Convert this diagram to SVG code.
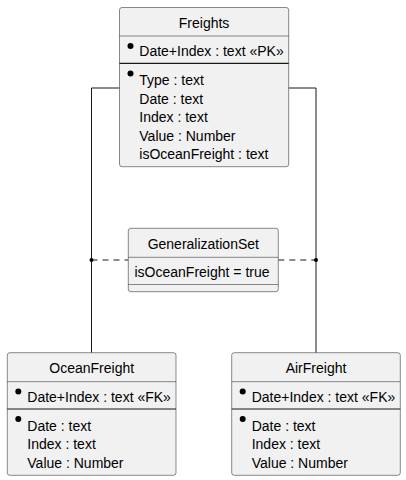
<svg xmlns="http://www.w3.org/2000/svg" width="406" height="480" viewBox="0 0 406 480">
<style>
.box{fill:#F1F1F1;stroke:#181818;stroke-width:0.5}
.sep{stroke:#181818;stroke-width:0.5;fill:none}
.pk{stroke:#181818;stroke-width:1.2;fill:none}
.t{font-family:"Liberation Sans",Arial,sans-serif;font-size:14px;fill:#000}
.c{text-anchor:middle}
.dot{fill:#000}
.ln{stroke:#181818;stroke-width:1;fill:none}
.dash{stroke:#181818;stroke-width:1;fill:none;stroke-dasharray:6,5}
</style>
<rect width="406" height="480" fill="#FFFFFF"/>
<g id="connectors">
<polyline class="ln" points="119.5,88 91.5,88 91.5,352.7"/>
<polyline class="ln" points="288.7,88 316,88 316,352.7"/>
<line class="dash" x1="91.5" y1="260" x2="128.3" y2="260"/>
<line class="dash" x1="278.3" y1="260" x2="316" y2="260"/>
<circle class="dot" cx="91.5" cy="260" r="2"/>
<circle class="dot" cx="316" cy="260" r="2"/>
</g>
<g id="Freights">
<rect class="box" x="119.5" y="7.5" width="169.2" height="159.2" rx="2.5"/>
<line class="sep" x1="119.5" y1="36" x2="288.7" y2="36"/>
<line class="pk" x1="119.5" y1="63.3" x2="288.7" y2="63.3"/>
<text class="t c" x="204.1" y="27.5">Freights</text>
<circle class="dot" cx="130.5" cy="46" r="3"/>
<text class="t" x="139.3" y="56">Date+Index : text «PK»</text>
<circle class="dot" cx="130.5" cy="73.5" r="3"/>
<text class="t" x="139.3" y="85">Type : text</text>
<text class="t" x="139.3" y="103.6">Date : text</text>
<text class="t" x="139.3" y="122.2">Index : text</text>
<text class="t" x="139.3" y="140.8">Value : Number</text>
<text class="t" x="139.3" y="159.4">isOceanFreight : text</text>
</g>
<g id="GeneralizationSet">
<rect class="box" x="128.3" y="228.3" width="150" height="63.4" rx="2.5"/>
<line class="sep" x1="128.3" y1="257.3" x2="278.3" y2="257.3"/>
<line class="sep" x1="128.3" y1="284.5" x2="278.3" y2="284.5"/>
<text class="t c" x="203.3" y="248.5">GeneralizationSet</text>
<text class="t" x="134.5" y="276.7">isOceanFreight = true</text>
</g>
<g id="OceanFreight">
<rect class="box" x="7.3" y="352.7" width="168.7" height="122.6" rx="2.5"/>
<line class="sep" x1="7.3" y1="381.7" x2="176" y2="381.7"/>
<line class="pk" x1="7.3" y1="409" x2="176" y2="409"/>
<text class="t c" x="91.7" y="372.7">OceanFreight</text>
<circle class="dot" cx="18.3" cy="391.5" r="3"/>
<text class="t" x="27.3" y="401.7">Date+Index : text «FK»</text>
<circle class="dot" cx="18.3" cy="419" r="3"/>
<text class="t" x="27.3" y="430.7">Date : text</text>
<text class="t" x="27.3" y="449.3">Index : text</text>
<text class="t" x="27.3" y="468">Value : Number</text>
</g>
<g id="AirFreight">
<rect class="box" x="231.7" y="352.7" width="168.6" height="122.6" rx="2.5"/>
<line class="sep" x1="231.7" y1="381.7" x2="400.3" y2="381.7"/>
<line class="pk" x1="231.7" y1="409" x2="400.3" y2="409"/>
<text class="t c" x="316" y="372.7">AirFreight</text>
<circle class="dot" cx="242.7" cy="391.5" r="3"/>
<text class="t" x="251.7" y="401.7">Date+Index : text «FK»</text>
<circle class="dot" cx="242.7" cy="419" r="3"/>
<text class="t" x="251.7" y="430.7">Date : text</text>
<text class="t" x="251.7" y="449.3">Index : text</text>
<text class="t" x="251.7" y="468">Value : Number</text>
</g>
</svg>
